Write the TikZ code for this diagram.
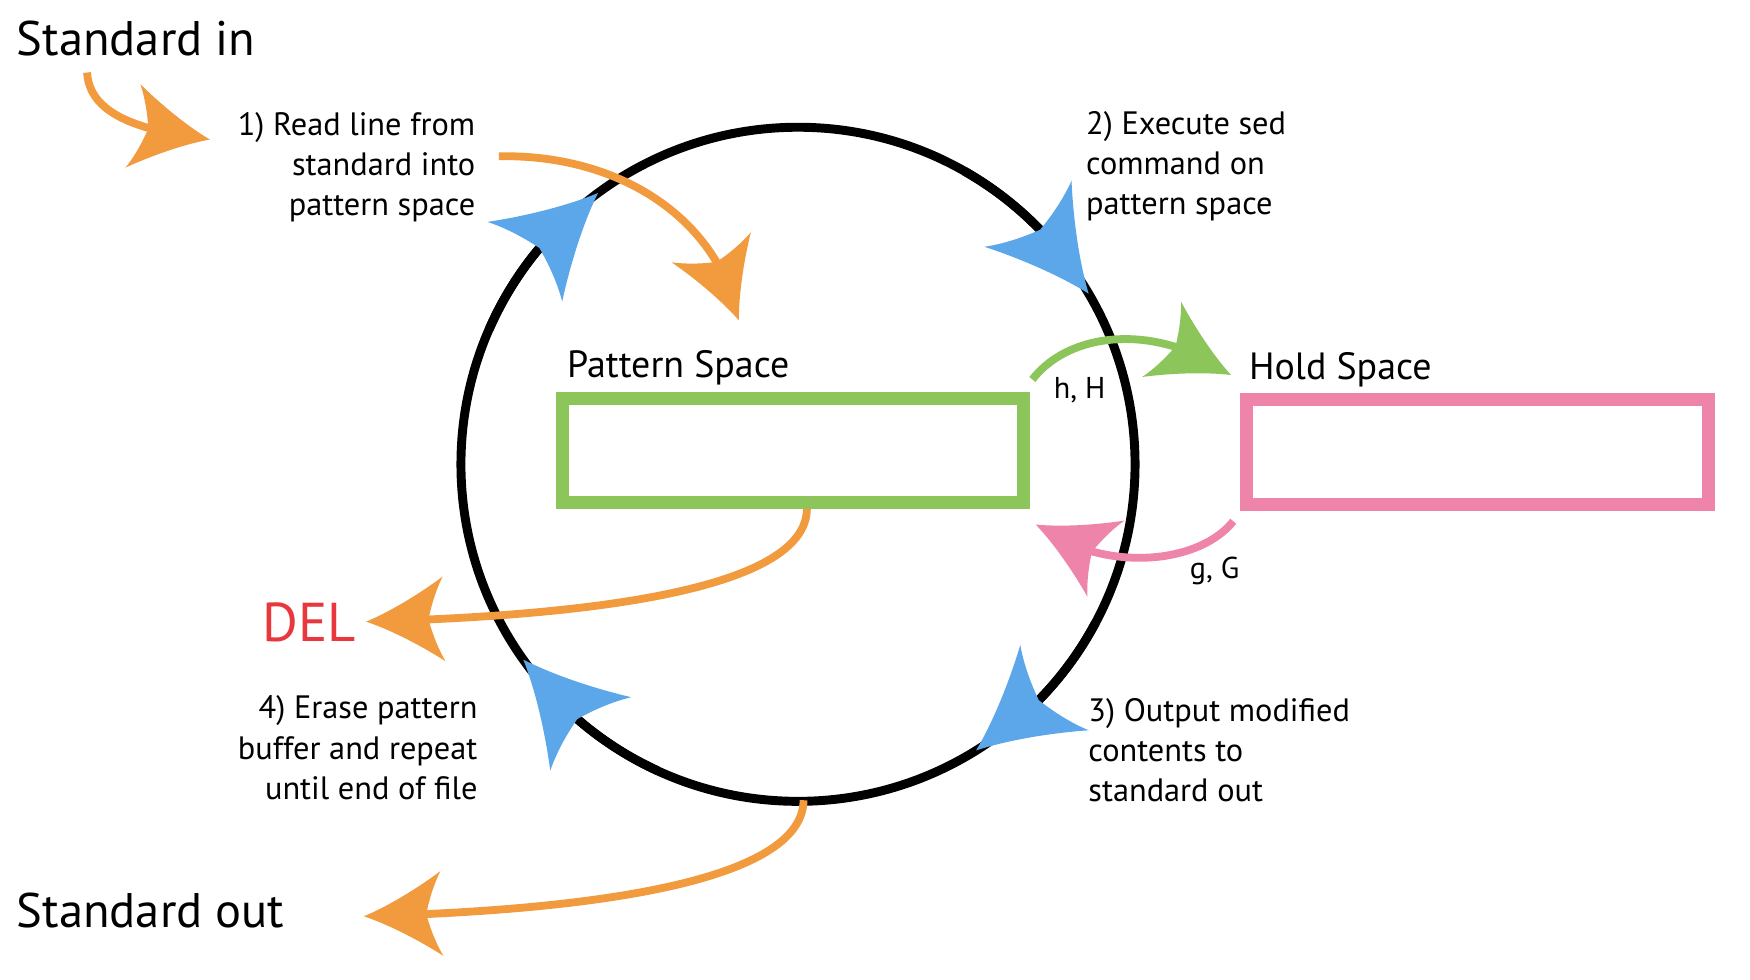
\documentclass[tikz,border=0pt]{standalone}
\usepackage{fontspec}
\setmainfont{PT Sans}
\usetikzlibrary{arrows.meta,bending}
\definecolor{orangec}{HTML}{F19A3E}
\definecolor{greenc}{HTML}{8CC65B}
\definecolor{pinkc}{HTML}{EF84AB}
\definecolor{bluec}{HTML}{5BA7E9}
\definecolor{redc}{HTML}{E8383D}
\pgfdeclarearrow{
  name = Barb,
  parameters = {\the\pgfarrowlength,\the\pgfarrowwidth},
  setup code = {
    \pgfarrowssettipend{0pt}
    \pgfarrowssetbackend{-\pgfarrowlength}
    \pgfarrowssetvisualbackend{-0.8\pgfarrowlength}
    \pgfarrowssetlineend{-0.7\pgfarrowlength}
    \pgfarrowsupperhullpoint{0pt}{0pt}
    \pgfarrowsupperhullpoint{-\pgfarrowlength}{0.5\pgfarrowwidth}
    \pgfarrowssavethe\pgfarrowlength
    \pgfarrowssavethe\pgfarrowwidth
  },
  drawing code = {
    \pgfpathmoveto{\pgfpointorigin}
    \pgfpathcurveto{\pgfqpoint{-0.35\pgfarrowlength}{0.12\pgfarrowwidth}}{\pgfqpoint{-0.75\pgfarrowlength}{0.34\pgfarrowwidth}}{\pgfqpoint{-\pgfarrowlength}{0.5\pgfarrowwidth}}
    \pgfpathcurveto{\pgfqpoint{-0.88\pgfarrowlength}{0.3\pgfarrowwidth}}{\pgfqpoint{-0.82\pgfarrowlength}{0.08\pgfarrowwidth}}{\pgfqpoint{-0.8\pgfarrowlength}{0pt}}
    \pgfpathcurveto{\pgfqpoint{-0.82\pgfarrowlength}{-0.08\pgfarrowwidth}}{\pgfqpoint{-0.88\pgfarrowlength}{-0.3\pgfarrowwidth}}{\pgfqpoint{-\pgfarrowlength}{-0.5\pgfarrowwidth}}
    \pgfpathcurveto{\pgfqpoint{-0.75\pgfarrowlength}{-0.34\pgfarrowwidth}}{\pgfqpoint{-0.35\pgfarrowlength}{-0.12\pgfarrowwidth}}{\pgfpointorigin}
    \pgfpathclose
    \pgfusepathqfill
  },
  defaults = {length = 20pt, width = 20pt}
}
\begin{document}
\begin{tikzpicture}[x=1pt,y=-1pt,
  bigtext/.style={inner sep=0pt,font=\fontsize{43.5}{50}\selectfont},
  steptext/.style={inner sep=0pt,font=\fontsize{29}{36}\selectfont},
  spacetext/.style={inner sep=0pt,font=\fontsize{34}{40}\selectfont},
  cmdtext/.style={inner sep=0pt,font=\fontsize{27}{32}\selectfont},
  ring/.style={draw=black,line width=8pt},
  flow/.style={line width=7pt,-{Barb[length=70pt,width=76pt]}},
  bluetip/.style={ring,-{Barb[length=90pt,width=98pt,color=bluec]}},
  spacebox/.style={draw,line width=12pt,minimum height=93pt,inner sep=0pt}
]
\path[fill=white,use as bounding box] (0,0) rectangle (1568,878);

% circle
\coordinate (O) at (715,416);
\node[ring,circle,minimum size=604pt,inner sep=0pt] (cyc) at (O) {};

% boxes
\node[spacebox,draw=greenc,minimum width=413pt] (pbox) at (710.5,403.5) {};
\node[spacebox,draw=pinkc,minimum width=414pt,minimum height=94pt] (hbox) at (1324,405) {};

% texts
\node[bigtext,anchor=base west] (sin) at (15,50) {Standard in};
\node[bigtext,anchor=base west] (sout) at (15,831) {Standard out};
\node[spacetext,anchor=base west] (plab) at (508,338) {Pattern Space};
\node[spacetext,anchor=base west] (hlab) at (1119,340) {Hold Space};
\node[cmdtext,anchor=base west] (hH) at (944,357) {h, H};
\node[cmdtext,anchor=base west] (gG) at (1066,518) {g, G};
\node[inner sep=0pt,anchor=base west,text=redc,font=\fontsize{49}{58}\selectfont] (del) at (235,575) {DEL};
\node[steptext,align=right,anchor=east] (s1) at (426,150) {1) Read line from\\standard into\\pattern space};
\node[steptext,align=left,anchor=west] (s2) at (973,149) {2) Execute sed\\command on\\pattern space};
\node[steptext,align=left,anchor=west] (s3) at (975,672) {3) Output modified\\contents to\\standard out};
\node[steptext,align=right,anchor=east] (s4) at (428,670) {4) Erase pattern\\buffer and repeat\\until end of file};

% blue tips on the cycle (clockwise)
\draw[bluetip] ([shift={(-156.4:302)}]O) arc[start angle=-156.4,end angle=-126.4,radius=302];
\draw[bluetip] ([shift={(-60.4:302)}]O) arc[start angle=-60.4,end angle=-30.4,radius=302];
\draw[bluetip] ([shift={(28.1:302)}]O) arc[start angle=28.1,end angle=58.1,radius=302];
\draw[bluetip] ([shift={(114.6:302)}]O) arc[start angle=114.6,end angle=144.6,radius=302];

% orange flows
\coordinate (a0) at (78,65);
\coordinate (a1) at (188,125);
\draw[flow,orangec] (a0) .. controls (80,97) and (112,116) .. (a1);
\coordinate (b0) at (447,140);
\coordinate (b1) at (662,287);
\draw[flow,orangec] (b0) .. controls (560,138) and (645,200) .. (b1);
\coordinate (c0) at (723,456);
\coordinate (c1) at (328,557);
\draw[flow,orangec] (c0) .. controls (722,530) and (520,552) .. (c1);
\coordinate (d0) at (720,717);
\coordinate (d1) at (326,821);
\draw[flow,orangec] (d0) .. controls (719,792) and (520,816) .. (d1);

% green and pink
\coordinate (e0) at (925,340);
\coordinate (e1) at (1103,336);
\draw[flow,greenc] (e0) .. controls (960,295) and (1040,290) .. (e1);
\coordinate (f0) at (1105,467);
\coordinate (f1) at (928,470);
\draw[flow,pinkc] (f0) .. controls (1075,505) and (990,515) .. (f1);
\end{tikzpicture}
\end{document}
